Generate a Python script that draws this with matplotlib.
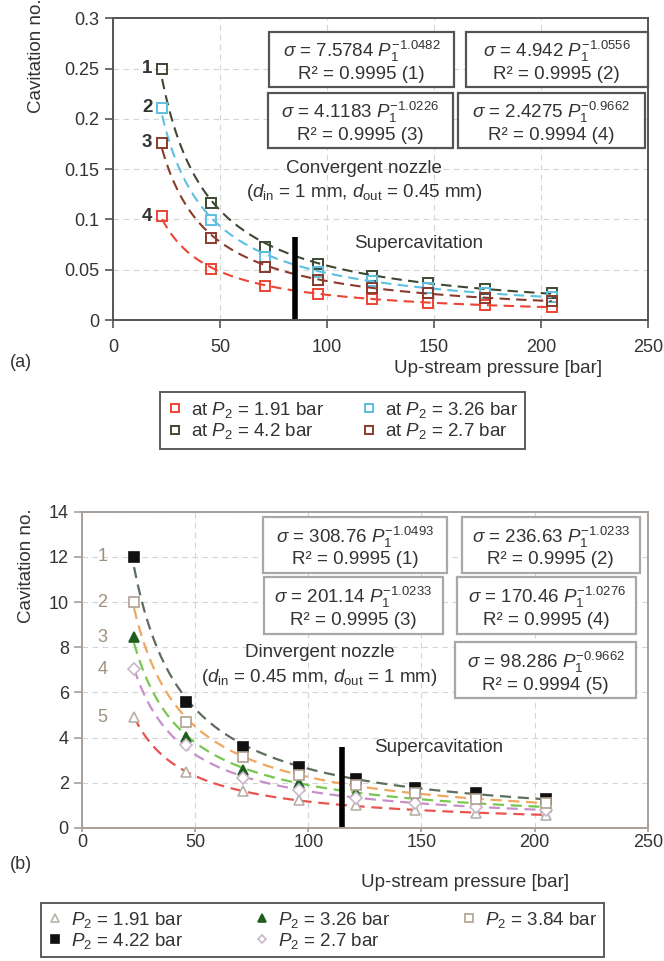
import matplotlib.pyplot as plt
from matplotlib.patches import Rectangle
import numpy as np

plt.rcParams['font.family'] = ['Liberation Sans', 'DejaVu Sans']
plt.rcParams['mathtext.fontset'] = 'custom'
plt.rcParams['mathtext.rm'] = 'Liberation Sans'
plt.rcParams['mathtext.it'] = 'Liberation Sans:italic'

# ---- data: (a) convergent nozzle ----
p1_a = [23, 46, 71, 96, 121, 147, 174, 205]
sig_a_191 = [0.103, 0.051, 0.034, 0.026, 0.021, 0.017, 0.015, 0.013]
sig_a_420 = [0.250, 0.116, 0.073, 0.056, 0.044, 0.037, 0.031, 0.027]
sig_a_326 = [0.211, 0.099, 0.063, 0.048, 0.039, 0.032, 0.027, 0.023]
sig_a_270 = [0.176, 0.082, 0.053, 0.040, 0.032, 0.027, 0.022, 0.019]
labels_a = ['at $P_2$ = 1.91 bar', 'at $P_2$ = 4.2 bar', 'at $P_2$ = 3.26 bar', 'at $P_2$ = 2.7 bar']
curve_no_a = ['4', '1', '2', '3']
eq_a = [r'$\sigma$ = 7.5784 $P_1^{-1.0482}$' + '\nR² = 0.9995 (1)',
        r'$\sigma$ = 4.942 $P_1^{-1.0556}$' + '\nR² = 0.9995 (2)',
        r'$\sigma$ = 4.1183 $P_1^{-1.0226}$' + '\nR² = 0.9995 (3)',
        r'$\sigma$ = 2.4275 $P_1^{-0.9662}$' + '\nR² = 0.9994 (4)']
supercav_a = 85

# ---- data: (b) divergent nozzle ----
p1_b = [23, 46, 71, 96, 121, 147, 174, 205]
sig_b_191 = [4.90, 2.48, 1.63, 1.24, 1.00, 0.80, 0.66, 0.58]
sig_b_422 = [12.0, 5.58, 3.58, 2.70, 2.17, 1.77, 1.55, 1.28]
sig_b_326 = [8.45, 4.03, 2.57, 1.99, 1.55, 1.30, 1.10, 0.95]
sig_b_270 = [7.03, 3.67, 2.20, 1.68, 1.35, 1.10, 0.95, 0.80]
sig_b_384 = [10.0, 4.69, 3.14, 2.35, 1.90, 1.55, 1.30, 1.10]
labels_b = ['$P_2$ = 1.91 bar', '$P_2$ = 4.22 bar', '$P_2$ = 3.26 bar', '$P_2$ = 2.7 bar', '$P_2$ = 3.84 bar']
curve_no_b = ['5', '1', '3', '4', '2']
eq_b = [r'$\sigma$ = 308.76 $P_1^{-1.0493}$' + '\nR² = 0.9995 (1)',
        r'$\sigma$ = 236.63 $P_1^{-1.0233}$' + '\nR² = 0.9995 (2)',
        r'$\sigma$ = 201.14 $P_1^{-1.0233}$' + '\nR² = 0.9995 (3)',
        r'$\sigma$ = 170.46 $P_1^{-1.0276}$' + '\nR² = 0.9995 (4)',
        r'$\sigma$ = 98.286 $P_1^{-0.9662}$' + '\nR² = 0.9994 (5)']
supercav_b = 115

FS = 13.5
TXT = '#333333'


def power_fit(x, y):
    # power law fit in log space, like the trendlines in the original
    b, a = np.polyfit(np.log(x), np.log(y), 1)
    xs = np.linspace(min(x), max(x), 200)
    return xs, np.exp(a) * xs ** b


def style_axes(ax, spine_col):
    for s in ax.spines.values():
        s.set_color(spine_col)
        s.set_linewidth(1.4)
    ax.grid(True, ls=(0, (5, 4)), color='#d4d4d4', lw=0.8)
    ax.set_axisbelow(True)
    ax.tick_params(labelsize=13, colors=TXT, length=6, color=spine_col, width=1.2)


def eq_boxes(ax, boxes, texts, ec):
    # boxes given as (x0, x1, y0, y1) in axes fraction
    for (x0, x1, y0, y1), t in zip(boxes, texts):
        ax.add_patch(Rectangle((x0, y0), x1 - x0, y1 - y0, transform=ax.transAxes,
                               fc='white', ec=ec, lw=1.6, clip_on=False, zorder=4))
        ax.text((x0 + x1) / 2, (y0 + y1) / 2 - 0.005, t, transform=ax.transAxes, ha='center',
                va='center', multialignment='center', fontsize=FS, color=TXT,
                linespacing=1.15, zorder=5)


fig = plt.figure(figsize=(6.64, 9.61), dpi=100)

# ================= (a) =================
ax1 = fig.add_axes([0.170, 0.667, 0.806, 0.314])
series_a = [sig_a_191, sig_a_420, sig_a_326, sig_a_270]
cols_a = ['#ee4433', '#3c4a33', '#5cc0e0', '#8a3a2c']
for y, c, lab, no in zip(series_a, cols_a, labels_a, curve_no_a):
    xs, ys = power_fit(p1_a, y)
    ax1.plot(xs, ys, ls=(0, (5, 3)), color=c, lw=1.5)
    ax1.plot(p1_a, y, ls='none', marker='s', ms=7, mfc='none', mec=c, mew=1.4, label=lab)
    ax1.text(18.5, y[0], no, ha='right', va='center', fontsize=13.5, fontweight='bold', color=TXT)
ax1.plot([supercav_a, supercav_a], [0, 0.083], color='black', lw=4, solid_capstyle='butt')
ax1.set_xlim(0, 250)
ax1.set_ylim(0, 0.3)
ax1.set_xticks([0, 50, 100, 150, 200, 250])
ax1.set_yticks([0, 0.05, 0.1, 0.15, 0.2, 0.25, 0.3])
ax1.set_yticklabels(['0', '0.05', '0.1', '0.15', '0.2', '0.25', '0.3'])
style_axes(ax1, '#555555')
ax1.tick_params(axis='x', pad=8)
ax1.set_ylabel('Cavitation no.', fontsize=FS, color=TXT)
ax1.yaxis.set_label_coords(-0.127, 0.877)
ax1.set_xlabel('Up-stream pressure [bar]', fontsize=FS, color=TXT)
ax1.xaxis.set_label_coords(0.72, -0.132)

eq_boxes(ax1, [(0.292, 0.637, 0.772, 0.954), (0.659, 1.0, 0.772, 0.954),
               (0.290, 0.635, 0.570, 0.752), (0.644, 0.994, 0.570, 0.752)], eq_a, '#555555')
ax1.text(0.469, 0.503, 'Convergent nozzle', transform=ax1.transAxes, ha='center', va='center',
         fontsize=FS, color=TXT)
ax1.text(0.469, 0.424, r'($d_{\rm in}$ = 1 mm, $d_{\rm out}$ = 0.45 mm)', transform=ax1.transAxes,
         ha='center', va='center', fontsize=FS, color=TXT)
ax1.text(0.572, 0.255, 'Supercavitation', transform=ax1.transAxes, ha='center', va='center',
         fontsize=FS, color=TXT)
fig.text(0.015, 0.623, '(a)', fontsize=13, color=TXT, va='center')

leg1 = fig.legend(*ax1.get_legend_handles_labels(), loc='upper left', bbox_to_anchor=(0.241, 0.592),
                  borderaxespad=0, ncol=2, fontsize=FS, frameon=True, fancybox=False,
                  edgecolor='#333333', handlelength=0.8, handletextpad=0.45, columnspacing=2.0,
                  borderpad=0.4, labelspacing=0.1, labelcolor=TXT, markerscale=0.75)
leg1.get_frame().set_linewidth(1.4)

# ================= (b) =================
ax2 = fig.add_axes([0.1235, 0.1384, 0.852, 0.329])
series_b = [sig_b_191, sig_b_422, sig_b_326, sig_b_270, sig_b_384]
line_cols_b = ['#e85550', '#5e6e5c', '#78c850', '#c890c8', '#f0a860']
mk_b = ['^', 's', '^', 'D', 's']
mfc_b = ['white', '#111111', '#1e5e1e', 'white', 'white']
mec_b = ['#b8b0a8', '#111111', '#1e5e1e', '#c8b8c8', '#b0a090']
ms_b = [7.5, 7, 7.5, 6, 7]
for y, lc, m, fc, ec, s, lab, no in zip(series_b, line_cols_b, mk_b, mfc_b, mec_b, ms_b, labels_b, curve_no_b):
    xs, ys = power_fit(p1_b, y)
    ax2.plot(xs, ys, ls=(0, (5, 3)), color=lc, lw=1.6)
    ax2.plot(p1_b, y, ls='none', marker=m, ms=s, mfc=fc, mec=ec, mew=1.2, label=lab)
    ax2.text(9, y[0], no, ha='center', va='center', fontsize=13, color='#a09080')
ax2.plot([supercav_b, supercav_b], [0, 3.6], color='black', lw=4, solid_capstyle='butt')
ax2.set_xlim(0, 250)
ax2.set_ylim(0, 14)
ax2.set_xticks([0, 50, 100, 150, 200, 250])
ax2.set_yticks(range(0, 15, 2))
style_axes(ax2, '#a8a098')
ax2.tick_params(axis='x', pad=1, length=3)
ax2.set_ylabel('Cavitation no.', fontsize=FS, color=TXT)
ax2.yaxis.set_label_coords(-0.083, 0.83)
ax2.set_xlabel('Up-stream pressure [bar]', fontsize=FS, color=TXT)
ax2.xaxis.set_label_coords(0.677, -0.146)

eq_boxes(ax2, [(0.320, 0.645, 0.807, 0.984), (0.671, 0.986, 0.807, 0.984),
               (0.322, 0.638, 0.614, 0.794), (0.663, 0.980, 0.614, 0.794),
               (0.659, 0.980, 0.411, 0.589)], eq_b, '#a8a8a8')
ax2.text(0.42, 0.554, 'Dinvergent nozzle', transform=ax2.transAxes, ha='center', va='center',
         fontsize=FS, color=TXT)
ax2.text(0.42, 0.475, r'($d_{\rm in}$ = 0.45 mm, $d_{\rm out}$ = 1 mm)', transform=ax2.transAxes,
         ha='center', va='center', fontsize=FS, color=TXT)
ax2.text(0.63, 0.256, 'Supercavitation', transform=ax2.transAxes, ha='center', va='center',
         fontsize=FS, color=TXT)
fig.text(0.015, 0.100, '(b)', fontsize=13, color=TXT, va='center')

leg2 = fig.legend(*ax2.get_legend_handles_labels(), loc='upper left', bbox_to_anchor=(0.062, 0.0603),
                  borderaxespad=0, ncol=3, fontsize=FS, frameon=True, fancybox=False,
                  edgecolor='#333333', handlelength=0.8, handletextpad=0.45, columnspacing=3.8,
                  borderpad=0.35, labelspacing=0.05, labelcolor=TXT, markerscale=0.75)
leg2.get_frame().set_linewidth(1.4)

fig.savefig('out.png', dpi=100)
